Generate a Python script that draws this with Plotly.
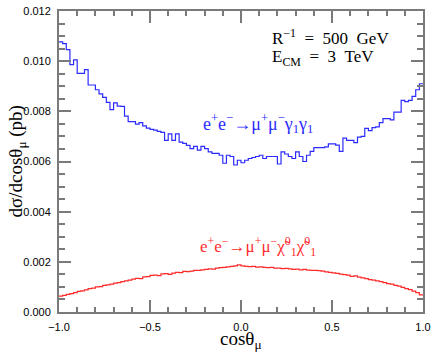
import numpy as np
import plotly.graph_objects as go

# 100 bins in cos(theta_mu) from -1 to 1
bin_edges = np.linspace(-1.0, 1.0, 101)

# e+e- -> mu+ mu- gamma1 gamma1  (pb per unit cos)
sigma_gamma = [
    0.01077, 0.01070, 0.01046, 0.00986, 0.01005, 0.00951, 0.00951, 0.00966, 0.00905, 0.00905,
    0.00886, 0.00870, 0.00856, 0.00836, 0.00807, 0.00834, 0.00821, 0.00820, 0.00781, 0.00759,
    0.00759, 0.00749, 0.00755, 0.00742, 0.00733, 0.00728, 0.00725, 0.00720, 0.00716, 0.00684,
    0.00710, 0.00684, 0.00710, 0.00677, 0.00672, 0.00664, 0.00651, 0.00660, 0.00645, 0.00660,
    0.00651, 0.00638, 0.00632, 0.00632, 0.00625, 0.00593, 0.00625, 0.00620, 0.00586, 0.00605,
    0.00595, 0.00605, 0.00612, 0.00616, 0.00620, 0.00625, 0.00612, 0.00620, 0.00620, 0.00620,
    0.00590, 0.00638, 0.00630, 0.00620, 0.00612, 0.00638, 0.00620, 0.00600, 0.00625, 0.00640,
    0.00655, 0.00655, 0.00655, 0.00658, 0.00670, 0.00670, 0.00665, 0.00640, 0.00693, 0.00684,
    0.00684, 0.00675, 0.00697, 0.00700, 0.00732, 0.00723, 0.00735, 0.00738, 0.00755, 0.00771,
    0.00771, 0.00766, 0.00797, 0.00797, 0.00844, 0.00839, 0.00844, 0.00860, 0.00886, 0.00910,
]

# e+e- -> mu+ mu- chi1 chi1
sigma_chi = [
    0.00063, 0.00066, 0.00070, 0.00073, 0.00077, 0.00082, 0.00084, 0.00088, 0.00093, 0.00095,
    0.00100, 0.00101, 0.00106, 0.00108, 0.00111, 0.00115, 0.00117, 0.00121, 0.00124, 0.00127,
    0.00131, 0.00134, 0.00133, 0.00140, 0.00141, 0.00146, 0.00147, 0.00145, 0.00152, 0.00153,
    0.00150, 0.00155, 0.00158, 0.00157, 0.00162, 0.00161, 0.00163, 0.00166, 0.00166, 0.00168,
    0.00170, 0.00172, 0.00171, 0.00175, 0.00177, 0.00178, 0.00180, 0.00182, 0.00184, 0.00188,
    0.00184, 0.00182, 0.00181, 0.00182, 0.00179, 0.00180, 0.00178, 0.00177, 0.00178, 0.00175,
    0.00175, 0.00173, 0.00174, 0.00172, 0.00170, 0.00171, 0.00168, 0.00170, 0.00167, 0.00166,
    0.00166, 0.00165, 0.00163, 0.00160, 0.00158, 0.00156, 0.00154, 0.00151, 0.00149, 0.00147,
    0.00142, 0.00144, 0.00139, 0.00136, 0.00133, 0.00129, 0.00127, 0.00124, 0.00121, 0.00117,
    0.00113, 0.00111, 0.00106, 0.00103, 0.00098, 0.00093, 0.00089, 0.00083, 0.00077, 0.00068,
]

BLUE = "#2b2bff"
RED = "#ff2b2b"
AXIS = "#7a7a7a"
SERIF = "Liberation Serif, Times New Roman, serif"
SANS = "Liberation Sans, Arial, sans-serif"


def step_trace(values, color):
    # histogram drawn as a step line over the bin edges
    return go.Scatter(
        x=list(bin_edges),
        y=list(values) + [values[-1]],
        mode="lines",
        line=dict(color=color, width=1.2, shape="hv"),
        showlegend=False,
        hoverinfo="skip",
    )


fig = go.Figure()
fig.add_trace(step_trace(sigma_gamma, BLUE))
fig.add_trace(step_trace(sigma_chi, RED))

axis_style = dict(
    showline=True,
    linecolor=AXIS,
    linewidth=2,
    mirror="allticks",
    ticks="inside",
    tickcolor=AXIS,
    tickwidth=1.5,
    ticklen=12,
    showgrid=False,
    zeroline=False,
    tickfont=dict(family=SANS, size=11, color="black"),
)

fig.update_xaxes(
    range=[-1.0, 1.0],
    tickvals=[-1.0, -0.5, 0.0, 0.5, 1.0],
    tickformat=".1f",
    minor=dict(dtick=0.1, ticks="inside", ticklen=5, tickcolor=AXIS, tickwidth=1.5),
    ticklabelstandoff=4,
    **axis_style,
)
fig.update_yaxes(
    range=[0.0, 0.012],
    tickvals=[0.0, 0.002, 0.004, 0.006, 0.008, 0.010, 0.012],
    tickformat=".3f",
    minor=dict(dtick=0.0005, ticks="inside", ticklen=6, tickcolor=AXIS, tickwidth=1.5),
    ticklabelstandoff=4,
    **axis_style,
)

nb = "\u00a0"
annotations = [
    dict(text=f"R<sup>−1</sup>{nb}{nb}={nb}{nb}500{nb}{nb}GeV", x=0.16, y=0.01096,
         xanchor="left", yanchor="middle", font=dict(family=SERIF, size=17, color="black")),
    dict(text=f"E<sub>CM</sub>{nb}{nb}={nb}{nb}3{nb}{nb}TeV", x=0.16, y=0.01014,
         xanchor="left", yanchor="middle", font=dict(family=SERIF, size=17, color="black")),
    dict(text="e<sup>+</sup>e<sup>−</sup>→μ<sup>+</sup>μ<sup>−</sup>γ<sub>1</sub>γ<sub>1</sub>",
         x=0.095, y=0.00752, xanchor="center", yanchor="middle",
         font=dict(family=SERIF, size=18, color=BLUE)),
    dict(text="e<sup>+</sup>e<sup>−</sup>→μ<sup>+</sup>μ<sup>−</sup>χ̃<sup>0</sup><sub>1</sub>χ̃<sup>0</sup><sub>1</sub>",
         x=0.095, y=0.00262, xanchor="center", yanchor="middle",
         font=dict(family=SERIF, size=17, color=RED)),
    dict(text="dσ/dcosθ<sub>μ</sub> (pb)", xref="paper", yref="paper", x=-0.118, y=0.5,
         textangle=-90, xanchor="center", yanchor="middle",
         font=dict(family=SERIF, size=19, color="black")),
    dict(text="cosθ<sub>μ</sub>", xref="paper", yref="paper", x=0.5, y=-0.094,
         xanchor="center", yanchor="middle", font=dict(family=SERIF, size=19, color="black")),
]
for a in annotations:
    a.setdefault("xref", "x")
    a.setdefault("yref", "y")
    a["showarrow"] = False

fig.update_layout(
    width=436,
    height=352,
    margin=dict(l=59, r=8, t=5, b=40),
    paper_bgcolor="white",
    plot_bgcolor="white",
    annotations=annotations,
)

# drop the default page margin so the figure sits at the window's corner
fig.write_html(
    "out.html",
    config={"displayModeBar": False},
    post_script="document.body.style.margin='0';",
)
